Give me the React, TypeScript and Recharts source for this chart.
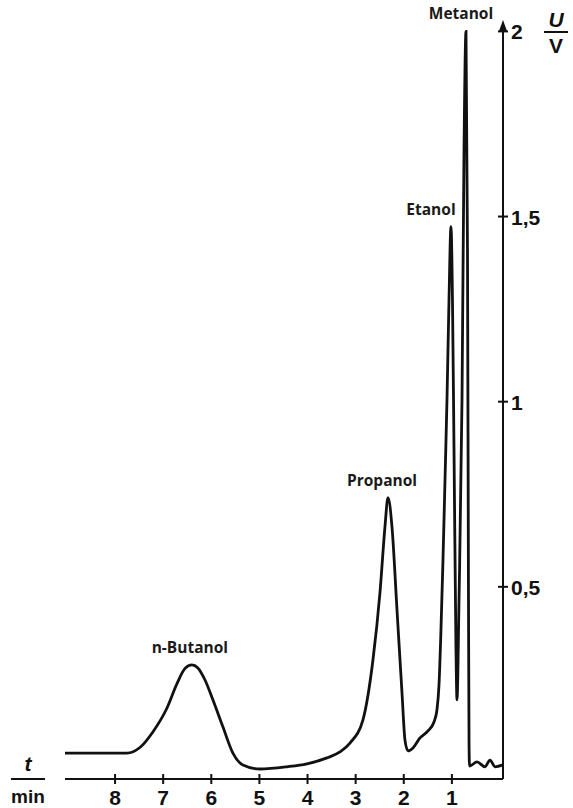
import React from 'react'
import { LineChart, Line, XAxis, YAxis } from 'recharts'

const times = [
  9.04, 7.755, 7.484, 7.214, 6.923, 6.715, 6.549, 6.403, 6.279, 6.133, 5.967, 5.759, 5.551, 5.343,
  4.99, 4.428, 4.012, 3.597, 3.326, 3.119, 2.848, 2.64, 2.495, 2.391, 2.328, 2.245, 2.141, 2.037,
  1.975, 1.913, 1.809, 1.663, 1.497, 1.372, 1.31, 1.268, 1.227, 1.185, 1.143, 1.102, 1.06, 1.019,
  0.988, 0.956, 0.915, 0.894, 0.852, 0.79, 0.748, 0.707, 0.676, 0.655, 0.644, 0.634, 0.478, 0.312,
  0.208, 0.104, -0.062,
]
const volts = [
  0.051, 0.051, 0.066, 0.108, 0.172, 0.238, 0.279, 0.289, 0.281, 0.249, 0.195, 0.122, 0.051, 0.019,
  0.008, 0.014, 0.022, 0.038, 0.054, 0.078, 0.141, 0.303, 0.484, 0.662, 0.741, 0.662, 0.438, 0.214,
  0.086, 0.057, 0.065, 0.092, 0.111, 0.135, 0.168, 0.235, 0.384, 0.573, 0.789, 1.005, 1.276, 1.473,
  1.276, 0.87, 0.33, 0.195, 0.465, 1.005, 1.681, 2.0, 1.411, 0.465, 0.086, 0.016, 0.027, 0.014,
  0.032, 0.014, 0.019,
]

const peakNames = ['n-Butanol', 'Propanol', 'Etanol', 'Metanol']
const peakTimes = [6.403, 2.328, 1.019, 0.707]
const peakLabelDx = [-2, -6, -20, -5]

const xTicks = [1, 2, 3, 4, 5, 6, 7, 8]
const yTicks = [0.5, 1, 1.5, 2]

const data = times.map((t, i) => ({ t, v: volts[i] }))

const INK = '#111'
const NUM_FONT = '"Liberation Sans", Arial, sans-serif'
const LABEL_FONT = '"Open Sans", "Noto Sans", sans-serif'

const XTick = (props: any) => {
  const { x, y, payload } = props
  return (
    <g>
      <line x1={x} x2={x} y1={y - 5} y2={y + 5} stroke={INK} strokeWidth={2} />
      <text x={x} y={y + 26} textAnchor="middle" fontFamily={NUM_FONT} fontWeight={700} fontSize={21} fill={INK}>
        {payload.value}
      </text>
    </g>
  )
}

const YTick = (props: any) => {
  const { x, y, payload } = props
  return (
    <g>
      <line x1={x - 5} x2={x + 5} y1={y} y2={y} stroke={INK} strokeWidth={2} />
      <text x={x + 8} y={y + 8} textAnchor="start" fontFamily={NUM_FONT} fontWeight={700} fontSize={21} fill={INK}>
        {String(payload.value).replace('.', ',')}
      </text>
    </g>
  )
}

const XUnitLabel = (props: any) => {
  const { viewBox } = props
  const x0 = viewBox.x - 37
  const y0 = viewBox.y
  return (
    <g>
      <text x={x0} y={y0 - 8} textAnchor="middle" fontFamily={NUM_FONT} fontStyle="italic" fontWeight={700} fontSize={21} fill={INK}>
        t
      </text>
      <line x1={x0 - 17} x2={x0 + 17} y1={y0} y2={y0} stroke={INK} strokeWidth={2} />
      <text x={x0} y={y0 + 24} textAnchor="middle" fontFamily={NUM_FONT} fontWeight={700} fontSize={19} fill={INK}>
        min
      </text>
    </g>
  )
}

const YUnitLabel = (props: any) => {
  const { viewBox } = props
  const ax = viewBox.x
  const top = viewBox.y
  const cx = ax + 53
  return (
    <g>
      <polygon points={`${ax},${top - 4} ${ax - 4},${top + 7} ${ax + 4},${top + 7}`} fill={INK} />
      <text x={cx} y={top + 3} textAnchor="middle" fontFamily={NUM_FONT} fontStyle="italic" fontWeight={700} fontSize={21} fill={INK}>
        U
      </text>
      <line x1={cx - 12} x2={cx + 12} y1={top + 8} y2={top + 8} stroke={INK} strokeWidth={2} />
      <text x={cx} y={top + 29} textAnchor="middle" fontFamily={NUM_FONT} fontWeight={700} fontSize={21} fill={INK}>
        V
      </text>
    </g>
  )
}

const PeakLabel = (props: any) => {
  const { x, y, index } = props
  const k = peakTimes.indexOf(data[index].t)
  if (k < 0) return null
  return (
    <text x={x + peakLabelDx[k]} y={y - 12} textAnchor="middle" fontFamily={LABEL_FONT} fontWeight={700} fontSize={15.5} fill="#1a1a1a">
      {peakNames[k]}
    </text>
  )
}

export default function App() {
  return (
    <div style={{ position: 'absolute', left: 0, top: 0, width: 573, height: 808, background: '#fff' }}>
      <LineChart width={573} height={808} data={data} margin={{ top: 24, right: 10, bottom: 4, left: 65 }}>
        <XAxis
          dataKey="t"
          type="number"
          domain={[-0.062, 9.04]}
          allowDataOverflow
          reversed
          ticks={xTicks}
          height={25}
          tickSize={0}
          tickMargin={0}
          tickLine={false}
          axisLine={{ stroke: INK, strokeWidth: 2 }}
          tick={<XTick />}
          label={<XUnitLabel />}
        />
        <YAxis
          type="number"
          orientation="right"
          domain={[-0.019, 2.02]}
          allowDataOverflow
          ticks={yTicks}
          width={60}
          tickSize={0}
          tickMargin={0}
          tickLine={false}
          axisLine={{ stroke: INK, strokeWidth: 2 }}
          tick={<YTick />}
          label={<YUnitLabel />}
        />
        <Line
          dataKey="v"
          type="monotone"
          stroke={INK}
          strokeWidth={2.8}
          dot={false}
          isAnimationActive={false}
          label={<PeakLabel />}
        />
      </LineChart>
    </div>
  )
}
